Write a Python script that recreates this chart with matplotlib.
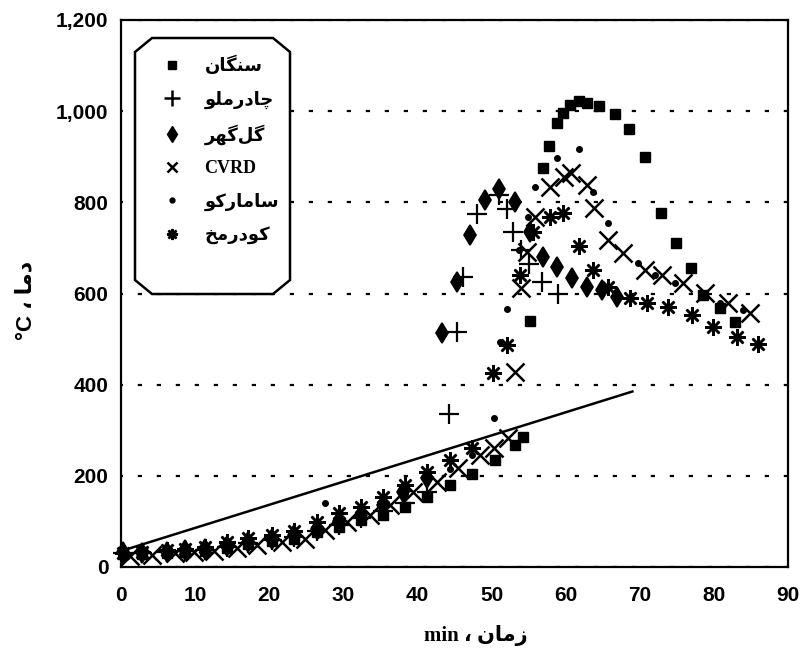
import matplotlib
matplotlib.use('Agg')
import matplotlib.pyplot as plt
from matplotlib.patches import Polygon
from matplotlib.lines import Line2D
from matplotlib.ticker import FuncFormatter
from matplotlib.font_manager import FontProperties

# ---------------- data ----------------
series_names = ['سنگان', 'چادرملو', 'گل\u200cگهر', 'CVRD', 'سامارکو', 'کودرمخ']

sangan_x = [0.3, 2.8, 6.2, 8.6, 11.3, 14.3, 17.1, 20.4, 23.4, 26.4, 29.4, 32.4, 35.4, 38.3,
            41.3, 44.4, 47.4, 50.4, 53.2, 54.3, 55.2, 57.0, 57.8, 58.8, 59.6, 60.6, 61.8,
            62.9, 64.5, 66.7, 68.6, 70.7, 72.9, 74.9, 76.9, 78.5, 80.8, 82.9]
sangan_y = [28, 28, 30, 33, 36, 42, 50, 56, 61, 77, 88, 103, 114, 132,
            154, 180, 205, 235, 268, 285, 540, 875, 923, 974, 995, 1013, 1022,
            1018, 1011, 993, 960, 900, 776, 710, 656, 596, 568, 537]

chador_x = [0.3, 2.8, 6.2, 8.6, 11.3, 14.3, 17.1, 20.4, 23.4, 26.4, 29.4, 32.4, 35.4, 38.3,
            41.3, 44.2, 45.3, 46.2, 48.0, 51.0, 52.1, 52.9, 54.0, 55.0, 56.8, 59.0]
chador_y = [30, 30, 32, 35, 38, 44, 52, 60, 66, 80, 93, 108, 122, 140,
            165, 335, 515, 637, 775, 815, 785, 735, 695, 665, 625, 598]

golgohar_x = [0.3, 2.8, 6.2, 8.6, 11.3, 14.3, 17.1, 20.4, 23.4, 26.4, 29.4, 32.4, 35.4, 38.0,
              41.3, 43.3, 45.3, 47.1, 49.1, 51.0, 53.2, 55.2, 57.0, 58.8, 60.9, 62.9, 64.9, 66.9]
golgohar_y = [32, 30, 34, 38, 40, 46, 55, 62, 70, 84, 100, 115, 135, 165,
              195, 513, 625, 728, 805, 829, 800, 735, 680, 658, 634, 614, 607, 592]

cvrd_x = [1.2, 4.2, 7.3, 9.9, 12.6, 15.6, 18.4, 21.7, 24.8, 27.5, 30.5, 33.6, 36.3, 39.4,
          42.6, 45.5, 48.4, 50.3, 52.2, 53.2, 54.0, 54.8, 55.9, 57.9, 59.8, 60.7, 62.9,
          63.8, 65.7, 67.7, 70.7, 73.0, 75.8, 78.8, 81.9, 84.9]
cvrd_y = [25, 26, 30, 32, 36, 42, 48, 55, 61, 81, 99, 114, 136, 165,
          186, 217, 246, 261, 283, 428, 612, 690, 768, 834, 856, 864, 838,
          787, 717, 689, 651, 640, 623, 601, 579, 557]

samarco_x = [0.3, 2.8, 6.2, 8.6, 11.3, 14.3, 17.1, 20.4, 23.4, 27.5, 29.4, 32.4, 35.4, 38.3,
             41.3, 44.4, 47.4, 50.3, 51.1, 52.1, 53.7, 54.9, 55.9, 58.8, 61.8, 63.7, 65.7,
             69.8, 72.1, 74.8, 80.8, 83.9]
samarco_y = [30, 30, 34, 36, 40, 45, 52, 60, 70, 140, 100, 115, 135, 160,
             190, 215, 245, 327, 493, 566, 695, 768, 834, 897, 917, 822, 754,
             667, 640, 623, 579, 563]

kudremukh_x = [0.3, 2.8, 6.2, 8.6, 11.3, 14.3, 17.1, 20.4, 23.4, 26.4, 29.4, 32.4, 35.4, 38.3,
               41.3, 44.4, 47.4, 50.2, 52.1, 53.8, 55.6, 57.9, 59.6, 61.8, 63.7, 65.7, 68.7,
               71.0, 73.8, 77.1, 79.9, 83.1, 86.0]
kudremukh_y = [31, 32, 38, 40, 44, 55, 63, 70, 80, 99, 118, 132, 154, 180,
               208, 235, 260, 425, 487, 640, 735, 768, 776, 704, 651, 614, 590,
               579, 570, 553, 526, 504, 489]

line_x = [0, 69]
line_y = [35, 385]

x_ticks = [0, 10, 20, 30, 40, 50, 60, 70, 80, 90]
y_ticks = [0, 200, 400, 600, 800, 1000, 1200]


# ---------------- simple Persian shaping (presentation forms) ----------------
FORMS = {
    'ا': ('\uFE8D', '\uFE8E', None, None),
    'د': ('\uFEA9', '\uFEAA', None, None),
    'ر': ('\uFEAD', '\uFEAE', None, None),
    'ز': ('\uFEAF', '\uFEB0', None, None),
    'و': ('\uFEED', '\uFEEE', None, None),
    'س': ('\uFEB1', '\uFEB2', '\uFEB3', '\uFEB4'),
    'ن': ('\uFEE5', '\uFEE6', '\uFEE7', '\uFEE8'),
    'م': ('\uFEE1', '\uFEE2', '\uFEE3', '\uFEE4'),
    'ل': ('\uFEDD', '\uFEDE', '\uFEDF', '\uFEE0'),
    'ه': ('\uFEE9', '\uFEEA', '\uFEEB', '\uFEEC'),
    'خ': ('\uFEA5', '\uFEA6', '\uFEA7', '\uFEA8'),
    'چ': ('\uFB7A', '\uFB7B', '\uFB7C', '\uFB7D'),
    'گ': ('\uFB92', '\uFB93', '\uFB94', '\uFB95'),
    'ک': ('\uFB8E', '\uFB8F', '\uFB90', '\uFB91'),
}


def rtl(word):
    if not any(c in FORMS for c in word):
        return word
    out = []
    n = len(word)
    for i, c in enumerate(word):
        if c == '\u200c':
            continue
        if c not in FORMS:
            out.append(c)
            continue
        f = FORMS[c]
        prev = word[i - 1] if i > 0 else None
        nxt = word[i + 1] if i + 1 < n else None
        pj = prev in FORMS and FORMS[prev][2] is not None
        nj = f[2] is not None and nxt in FORMS
        if pj and nj:
            out.append(f[3])
        elif pj:
            out.append(f[1])
        elif nj:
            out.append(f[2])
        else:
            out.append(f[0])
    return ''.join(reversed(out))


# ---------------- figure ----------------
W, H = 805, 653
fig = plt.figure(figsize=(W / 100, H / 100), dpi=100)
fig.patch.set_facecolor('white')
L, R, T, B = 121, 788, 20, 567
ax = fig.add_axes([L / W, 1 - B / H, (R - L) / W, (B - T) / H])
ax.set_xlim(0, 90)
ax.set_ylim(0, 1200)

for s in ax.spines.values():
    s.set_linewidth(1.6)
    s.set_color('black')

ax.set_xticks(x_ticks)
ax.set_yticks(y_ticks)
ax.yaxis.set_major_formatter(FuncFormatter(lambda v, p: f'{v:,.0f}'))
ax.tick_params(axis='both', length=0)
ax.tick_params(axis='x', pad=14)
ax.tick_params(axis='y', pad=9)
tick_font = FontProperties(family=['Liberation Sans', 'DejaVu Sans'], weight='bold', size=15)
for lab in ax.get_xticklabels() + ax.get_yticklabels():
    lab.set_fontproperties(tick_font)

ax.yaxis.grid(True, color='black', linestyle=(1.0, (1.9, 6.65)), linewidth=1.6)
ax.set_axisbelow(True)

# reference line
ax.plot(line_x, line_y, color='black', lw=1.8, zorder=2)

mk = dict(linestyle='none', color='black', clip_on=False, zorder=3)
ax.plot(sangan_x, sangan_y, marker='s', markersize=6.5, **mk)
ax.plot(chador_x, chador_y, marker='+', markersize=14, markeredgewidth=1.6, **mk)
ax.plot(golgohar_x, golgohar_y, marker='d', markersize=10, markerfacecolor='black',
        markeredgecolor='black', markeredgewidth=1.2, **mk)
ax.plot(cvrd_x, cvrd_y, marker='x', markersize=13, markeredgewidth=1.8, **mk)
ax.plot(samarco_x, samarco_y, marker='o', markersize=4, **mk)
ax.plot(kudremukh_x, kudremukh_y, marker=(8, 2, 0), markersize=12, markeredgewidth=1.8, **mk)

# legend frame (octagonal box)
def fpt(px, py):
    return (px / W, 1 - py / H)

lx0, lx1, ly0, ly1, cx, cy = 135, 290, 38, 294, 17, 14
verts = [fpt(lx0, ly0 + cy), fpt(lx0 + cx, ly0), fpt(lx1 - cx, ly0), fpt(lx1, ly0 + cy),
         fpt(lx1, ly1 - cy), fpt(lx1 - cx, ly1), fpt(lx0 + cx, ly1), fpt(lx0, ly1 - cy)]
frame = Polygon(verts, closed=True, facecolor='white', edgecolor='black', lw=1.8,
                transform=fig.transFigure, zorder=4, clip_on=False)
ax.add_patch(frame)

lk = dict(linestyle='none', color='black')
handles = [
    Line2D([], [], marker='s', markersize=5.5, **lk),
    Line2D([], [], marker='+', markersize=11, markeredgewidth=1.8, **lk),
    Line2D([], [], marker='d', markersize=8, **lk),
    Line2D([], [], marker='x', markersize=7.5, markeredgewidth=1.8, **lk),
    Line2D([], [], marker='o', markersize=3.5, **lk),
    Line2D([], [], marker=(8, 2, 0), markersize=8, markeredgewidth=1.8, **lk),
]
labels = [rtl(n) for n in series_names]
leg_font = FontProperties(family=['Liberation Serif', 'DejaVu Sans'], weight='bold', size=13)
leg = ax.legend(handles, labels, loc='upper left',
                bbox_to_anchor=((163 - L) / (R - L), (B - 56) / (B - T)),
                frameon=False, prop=leg_font, handlelength=1.0, handletextpad=1.3,
                labelspacing=0.85, borderpad=0, borderaxespad=0)
leg.set_zorder(5)

# axis labels
ax.set_xlabel('min ، ' + rtl('زمان'), fontproperties=FontProperties(
    family=['Liberation Serif', 'DejaVu Sans'], weight='bold', size=15))
ax.xaxis.set_label_coords((476 - L) / (R - L), -(636 - B) / (B - T))
ax.xaxis.label.set_va('center')
ax.set_ylabel('°C ، ' + rtl('دما'), fontproperties=FontProperties(
    family=['Liberation Sans', 'DejaVu Sans'], weight='bold', size=16))
ax.yaxis.set_label_coords(-(L - 26) / (R - L), (B - 300) / (B - T))
ax.yaxis.label.set_va('center')

fig.savefig('out.png', dpi=100, facecolor='white')
